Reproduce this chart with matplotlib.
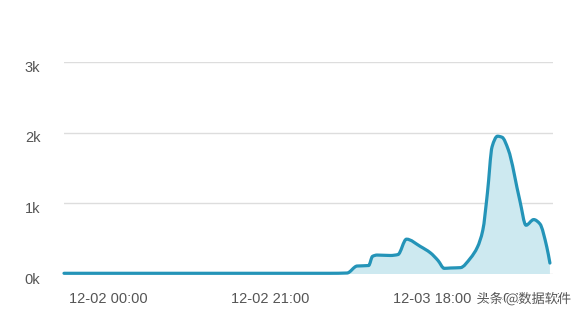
import matplotlib
matplotlib.use("Agg")
import numpy as np
import matplotlib.pyplot as plt
import matplotlib.patheffects as pe
import matplotlib.transforms as mtransforms
from matplotlib.path import Path
from matplotlib.patches import PathPatch

# hours relative to 12-02 00:00
hours = [-5.7, 5, 15, 28.8, 31.0, 32.3, 33.8, 34.3, 34.9, 36.6, 37.6, 38.7,
         40.5, 41.8, 42.8, 43.6, 44.4, 45.7, 47.0, 47.9, 48.6, 49.2, 49.8, 50.5,
         51.1, 51.9, 53.4, 54.2, 55.2, 56.0, 56.9, 57.3]
values = [10, 10, 10, 10, 14, 113, 120, 250, 268, 262, 275, 493,
          390, 300, 190, 80, 85, 90, 225, 380, 620, 1150, 1800, 1950,
          1935, 1760, 1040, 690, 770, 710, 380, 155]

tick_pos = [0, 21, 42, 53.6]
tick_labels = ["12-02 00:00", "12-02 21:00", "12-03 18:00", "12-04 13:25"]
y_ticks = [0, 1000, 2000, 3000]
y_labels = ["0k", "1k", "2k", "3k"]


def smooth_path(xs, ys):
    """Monotone cubic (Fritsch-Carlson) Bezier path through the data points."""
    xs = np.asarray(xs, float)
    ys = np.asarray(ys, float)
    n = len(xs)
    h = np.diff(xs)
    d = np.diff(ys) / h
    m = np.zeros(n)
    m[0], m[-1] = d[0], d[-1]
    for i in range(1, n - 1):
        if d[i - 1] * d[i] <= 0:
            m[i] = 0.0
        else:
            w1 = 2 * h[i] + h[i - 1]
            w2 = h[i] + 2 * h[i - 1]
            m[i] = (w1 + w2) / (w1 / d[i - 1] + w2 / d[i])
    verts = [(xs[0], ys[0])]
    codes = [Path.MOVETO]
    for i in range(n - 1):
        dx = h[i] / 3.0
        verts += [(xs[i] + dx, ys[i] + m[i] * dx),
                  (xs[i + 1] - dx, ys[i + 1] - m[i + 1] * dx),
                  (xs[i + 1], ys[i + 1])]
        codes += [Path.CURVE4] * 3
    return verts, codes


W, H = 581, 320
fig = plt.figure(figsize=(W / 100, H / 100), dpi=100)
fig.patch.set_facecolor("white")
ax = fig.add_axes([64 / W, 1 - 274 / H, (553 - 64) / W, (274 - 62) / H])
ax.set_facecolor("none")

line_color = "#2494b8"
fill_color = "#cde9f0"

verts, codes = smooth_path(hours, values)
fill_verts = verts + [(hours[-1], 0), (hours[0], 0), verts[0]]
fill_codes = codes + [Path.LINETO, Path.LINETO, Path.CLOSEPOLY]
ax.add_patch(PathPatch(Path(fill_verts, fill_codes), facecolor=fill_color, lw=0, zorder=2))
ax.add_patch(PathPatch(Path(verts, codes), facecolor="none", edgecolor=line_color,
                       lw=2.3, joinstyle="round", capstyle="round", zorder=3, clip_on=False))

ax.set_xlim(-5.7, 57.7)
ax.set_ylim(0, 3000)
ax.set_yticks(y_ticks)
ax.set_yticklabels(y_labels)
ax.set_xticks(tick_pos)
ax.set_xticklabels(tick_labels)
ax.tick_params(axis="both", length=0, labelsize=10.5, colors="#555555")
ax.tick_params(axis="y", pad=17)
ax.tick_params(axis="x", pad=13)
offset = mtransforms.ScaledTranslation(0, -4 / 100, fig.dpi_scale_trans)
for lab in ax.get_yticklabels():
    lab.set_transform(lab.get_transform() + offset)
for lab in ax.get_xticklabels() + ax.get_yticklabels():
    lab.set_fontfamily("Liberation Sans")
ax.grid(axis="y", color="#dddddd", lw=1, zorder=0)
for s in ax.spines.values():
    s.set_visible(False)

fig.text(524 / W, 1 - 299 / H, "头条 @数据软件", ha="center", va="center",
         fontsize=9.5, color="#555555", family=["Noto Sans CJK SC", "DejaVu Sans"],
         path_effects=[pe.withStroke(linewidth=1.5, foreground="white")])

fig.savefig("out.png", dpi=100)
